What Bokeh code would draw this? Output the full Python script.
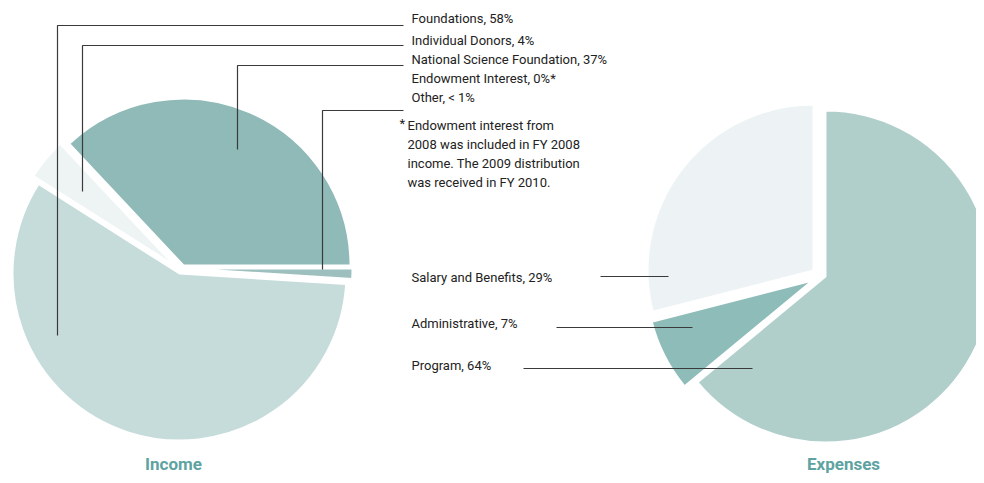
import math
from bokeh.plotting import figure
from bokeh.models import Range1d
from bokeh.core.properties import value
from bokeh.embed import file_html
from bokeh.resources import INLINE

# ---- data ----
income_cats = ["Foundations", "Individual Donors", "National Science Foundation", "Endowment Interest", "Other"]
income_pct = [58, 4, 37, 0, 1]
income_text = ["Foundations, 58%", "Individual Donors, 4%", "National Science Foundation, 37%",
               "Endowment Interest, 0%*", "Other, < 1%"]
footnote = ["Endowment interest from", "2008 was included in FY 2008",
            "income. The 2009 distribution", "was received in FY 2010."]

expense_cats = ["Salary and Benefits", "Administrative", "Program"]
expense_pct = [29, 7, 64]
expense_text = ["Salary and Benefits, 29%", "Administrative, 7%", "Program, 64%"]

titles = ["Income", "Expenses"]

# ---- style / layout ----
W, H = 976, 476
FONT = "Roboto"
FS = "13px"
TXT = "#222222"
LINE = "#3a3a3a"
TEAL = "#5ea3a1"

def Y(py):
    return 483 - py

p = figure(width=W, height=H, x_range=Range1d(0, W), y_range=Range1d(483 - H, 483),
           output_backend="svg", toolbar_location=None, min_border=0)
p.axis.visible = False
p.grid.visible = False
p.outline_line_color = None
p.background_fill_color = "white"

# income pie (clockwise, legend order)
inc_colors = ["#c6dcdb", "#eef4f4", "#8fbab8", "#8fb3b2", "#9dbfbe"]
inc_centers = [(179, 273), (174, 265), (183, 265), (185, 268), (185, 268)]
inc_r = 167
start = -3.6
cum = 0.0
for pct, col, (cx, cy) in zip(income_pct, inc_colors, inc_centers):
    a0 = start - cum * 3.6
    a1 = start - (cum + pct) * 3.6
    cum += pct
    if pct == 0:
        continue
    p.wedge(x=cx, y=Y(cy), radius=inc_r, start_angle=math.radians(a1), end_angle=math.radians(a0),
            fill_color=col, line_color="white", line_width=2)

# expenses pie (clockwise from top: Program, Administrative, Salary)
exp_colors = {"Program": "#b0cfcb", "Administrative": "#8ebcb9", "Salary and Benefits": "#edf3f5"}
exp_centers = {"Program": (825, 276), "Administrative": (812, 280), "Salary and Benefits": (813, 270)}
exp_r = 166
cum = 0.0
for cat, pct in reversed(list(zip(expense_cats, expense_pct))):
    a0 = 90 - cum * 3.6
    a1 = 90 - (cum + pct) * 3.6
    cum += pct
    cx, cy = exp_centers[cat]
    p.wedge(x=cx, y=Y(cy), radius=exp_r, start_angle=math.radians(a1), end_angle=math.radians(a0),
            fill_color=exp_colors[cat], line_color="white", line_width=2)

# income leader lines
inc_label_y = [18, 40, 59, 78, 97]
inc_lines = [(57, 25, 335), (82, 45, 191), (237, 65, 149), (322, 110, 269)]
for lx, hy, vy in inc_lines:
    p.line(x=[403, lx, lx], y=[Y(hy), Y(hy), Y(vy)], line_color=LINE, line_width=1.2)

p.text(x=[411] * len(income_text), y=[Y(v) for v in inc_label_y], text=income_text,
       text_font=value(FONT), text_font_size=FS, text_color=TXT,
       text_baseline="middle", text_align="left")

# footnote
p.text(x=[399], y=[Y(123)], text=["*"], text_font=value(FONT), text_font_size=FS,
       text_color=TXT, text_baseline="middle", text_align="left")
p.text(x=[407] * len(footnote), y=[Y(v) for v in [125, 144, 163, 182]], text=footnote,
       text_font=value(FONT), text_font_size=FS, text_color=TXT,
       text_baseline="middle", text_align="left")

# expense labels and lines
exp_label_y = [277, 323, 365]
exp_lines = [(600, 668, 276), (556, 692, 327), (523, 752, 368)]
p.text(x=[411] * 3, y=[Y(v) for v in exp_label_y], text=expense_text,
       text_font=value(FONT), text_font_size=FS, text_color=TXT,
       text_baseline="middle", text_align="left")
for x0, x1, ly in exp_lines:
    p.line(x=[x0, x1], y=[Y(ly), Y(ly)], line_color=LINE, line_width=1.2)

# titles
p.text(x=[173, 843], y=[Y(463), Y(463)], text=titles, text_font=value(FONT),
       text_font_size="17px", text_font_style="bold", text_color=TEAL,
       text_baseline="middle", text_align="center")

open("out.html", "w").write(file_html(p, INLINE))
